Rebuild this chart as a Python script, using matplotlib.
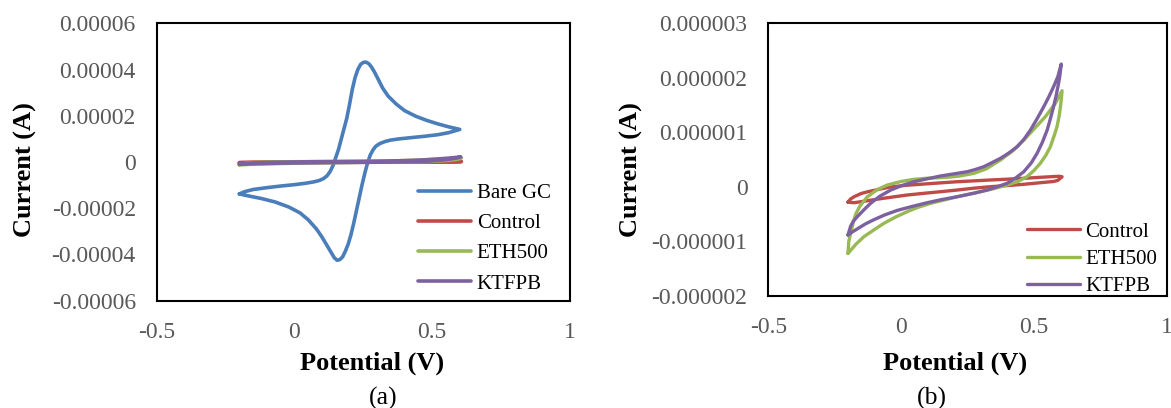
import matplotlib
matplotlib.use("Agg")
import matplotlib.pyplot as plt

# ---------------- data ----------------
# Bare GC (panel a), potential in V, current in units of 1e-5 A
bare_E = [-0.2, -0.18, -0.15, -0.1, -0.05, 0.0, 0.04, 0.07, 0.09, 0.105, 0.118, 0.13, 0.14,
          0.15, 0.16, 0.17, 0.18, 0.19, 0.2, 0.21, 0.22, 0.23, 0.24, 0.25, 0.26, 0.27, 0.28,
          0.29, 0.3, 0.32, 0.34, 0.37, 0.4, 0.44, 0.48, 0.52, 0.56, 0.6,
          0.56, 0.52, 0.47, 0.42, 0.38, 0.35, 0.33, 0.31, 0.295, 0.285, 0.275, 0.265, 0.255,
          0.245, 0.235, 0.225, 0.215, 0.205, 0.195, 0.185, 0.175, 0.165, 0.155, 0.145, 0.135,
          0.12, 0.1, 0.08, 0.05, 0.02, -0.02, -0.07, -0.12, -0.17, -0.2]
bare_I = [-1.38, -1.28, -1.19, -1.11, -1.04, -0.98, -0.92, -0.86, -0.8, -0.72, -0.6, -0.4, -0.15,
          0.2, 0.55, 1.0, 1.45, 1.9, 2.5, 3.15, 3.65, 4.0, 4.22, 4.31, 4.32, 4.25, 4.1,
          3.9, 3.67, 3.2, 2.85, 2.5, 2.22, 1.98, 1.8, 1.65, 1.52, 1.41,
          1.27, 1.18, 1.11, 1.05, 1.0, 0.95, 0.89, 0.8, 0.68, 0.52, 0.3, -0.05, -0.5,
          -1.0, -1.55, -2.1, -2.65, -3.15, -3.55, -3.85, -4.1, -4.22, -4.25, -4.15, -3.95,
          -3.65, -3.25, -2.9, -2.5, -2.2, -1.95, -1.73, -1.58, -1.46, -1.38]

# Control, current in units of 1e-6 A
ctrl_E = [-0.2, -0.19, -0.177, -0.15, -0.127, -0.08, -0.039, 0.02, 0.086, 0.15, 0.211, 0.27,
          0.336, 0.4, 0.462, 0.52, 0.574, 0.595, 0.606,
          0.59, 0.574, 0.52, 0.462, 0.4, 0.336, 0.27, 0.211, 0.15, 0.086, 0.02, -0.039, -0.09,
          -0.127, -0.177, -0.2]
ctrl_I = [-0.28, -0.22, -0.18, -0.12, -0.09, -0.04, 0.0, 0.03, 0.053, 0.075, 0.095, 0.11,
          0.127, 0.142, 0.158, 0.175, 0.19, 0.195, 0.187,
          0.12, 0.1, 0.075, 0.048, 0.025, 0.004, -0.025, -0.057, -0.087, -0.117, -0.15, -0.19,
          -0.225, -0.253, -0.29, -0.28]

# ETH500, current in units of 1e-6 A
eth_E = [-0.2, -0.197, -0.19, -0.18, -0.171, -0.155, -0.127, -0.09, -0.052, 0.0, 0.048, 0.1,
         0.174, 0.22, 0.274, 0.32, 0.374, 0.42, 0.462, 0.5, 0.543, 0.581, 0.606,
         0.603, 0.6, 0.595, 0.587, 0.575, 0.562, 0.545, 0.524, 0.5, 0.474, 0.44, 0.399, 0.35,
         0.299, 0.211, 0.111, 0.06, 0.023, -0.02, -0.065, -0.1, -0.14, -0.17, -0.2]
eth_I = [-1.22, -1.0, -0.85, -0.65, -0.5, -0.35, -0.18, -0.05, 0.035, 0.1, 0.139, 0.16,
         0.176, 0.2, 0.249, 0.33, 0.493, 0.66, 0.86, 1.06, 1.287, 1.533, 1.764,
         1.6, 1.47, 1.3, 1.104, 0.92, 0.737, 0.58, 0.432, 0.3, 0.187, 0.1, 0.035, -0.03,
         -0.088, -0.18, -0.301, -0.38, -0.454, -0.55, -0.668, -0.78, -0.912, -1.05, -1.22]

# KTFPB, current in units of 1e-6 A
ktf_E = [-0.2, -0.195, -0.19, -0.18, -0.165, -0.14, -0.115, -0.08, -0.039, 0.0, 0.048, 0.1,
         0.148, 0.2, 0.249, 0.28, 0.311, 0.34, 0.374, 0.405, 0.437, 0.462, 0.487, 0.512, 0.537,
         0.555, 0.574, 0.59, 0.603,
         0.598, 0.593, 0.584, 0.574, 0.562, 0.55, 0.532, 0.512, 0.49, 0.462, 0.43, 0.399, 0.36,
         0.324, 0.27, 0.211, 0.15, 0.098, 0.04, -0.014, -0.06, -0.102, -0.135, -0.165, -0.185,
         -0.2]
ktf_I = [-0.88, -0.8, -0.72, -0.63, -0.546, -0.42, -0.301, -0.17, -0.057, 0.02, 0.095, 0.15,
         0.2, 0.24, 0.279, 0.32, 0.37, 0.44, 0.524, 0.62, 0.737, 0.87, 1.043, 1.25, 1.47,
         1.64, 1.837, 2.02, 2.253,
         2.05, 1.9, 1.68, 1.47, 1.25, 1.043, 0.82, 0.616, 0.44, 0.279, 0.16, 0.066, 0.0,
         -0.057, -0.12, -0.18, -0.235, -0.29, -0.36, -0.43, -0.51, -0.6, -0.68, -0.77, -0.83,
         -0.88]

series_names = ["Bare GC", "Control", "ETH500", "KTFPB"]
colors = {"Bare GC": "#4A7EBB", "Control": "#BE4B48", "ETH500": "#98B954", "KTFPB": "#7D60A0"}

xticks = [-0.5, 0, 0.5, 1]
xticklabels = ["-0.5", "0", "0.5", "1"]
yticks_a = [-6e-5, -4e-5, -2e-5, 0, 2e-5, 4e-5, 6e-5]
yticklabels_a = ["-0.00006", "-0.00004", "-0.00002", "0", "0.00002", "0.00004", "0.00006"]
yticks_b = [-2e-6, -1e-6, 0, 1e-6, 2e-6, 3e-6]
yticklabels_b = ["-0.000002", "-0.000001", "0", "0.000001", "0.000002", "0.000003"]

# ---------------- figure ----------------
W, H = 1171, 408
fig = plt.figure(figsize=(W / 100, H / 100), dpi=100)
plt.rcParams['font.family'] = ['Liberation Serif', 'DejaVu Serif']

def px_axes(x0, y0, x1, y1):
    return fig.add_axes([x0 / W, 1 - y1 / H, (x1 - x0) / W, (y1 - y0) / H])

axA = px_axes(156.7, 23.3, 570, 300.7)
axB = px_axes(768.3, 23.3, 1166.7, 296)

data = {
    "Bare GC": (bare_E, [v * 1e-5 for v in bare_I]),
    "Control": (ctrl_E, [v * 1e-6 for v in ctrl_I]),
    "ETH500": (eth_E, [v * 1e-6 for v in eth_I]),
    "KTFPB": (ktf_E, [v * 1e-6 for v in ktf_I]),
}

for name in series_names:
    E, I = data[name]
    axA.plot(E, I, color=colors[name], lw=2.6, label=name, solid_joinstyle='round',
             solid_capstyle='round')
for name in series_names[1:]:
    E, I = data[name]
    axB.plot(E, I, color=colors[name], lw=2.4, label=name, solid_joinstyle='round',
             solid_capstyle='round')

for ax, yt, ytl, ylim in [(axA, yticks_a, yticklabels_a, (-6e-5, 6e-5)),
                          (axB, yticks_b, yticklabels_b, (-2e-6, 3e-6))]:
    ax.set_xlim(-0.5, 1)
    ax.set_ylim(*ylim)
    ax.set_xticks(xticks)
    ax.set_xticklabels(xticklabels)
    ax.set_yticks(yt)
    ax.set_yticklabels(ytl)
    ax.tick_params(axis='both', length=0, labelsize=17, colors='#595959')
    ax.tick_params(axis='y', pad=15)
    ax.tick_params(axis='x', pad=15)
    for s in ax.spines.values():
        s.set_linewidth(1.5)
        s.set_color('black')

# legends
legA = axA.legend(loc='upper left', bbox_to_anchor=(418.3 / W, 1 - 183.5 / H),
                  bbox_transform=fig.transFigure, frameon=False, fontsize=15,
                  handlelength=2.55, handletextpad=0.25, labelspacing=0.51, borderpad=0,
                  borderaxespad=0)
legB = axB.legend(loc='upper left', bbox_to_anchor=(1026.7 / W, 1 - 222.0 / H),
                  bbox_transform=fig.transFigure, frameon=False, fontsize=15,
                  handlelength=2.55, handletextpad=0.25, labelspacing=0.37, borderpad=0,
                  borderaxespad=0)

# axis titles and panel labels
fig.text(371.7 / W, 1 - 363 / H, "Potential (V)", ha='center', va='center',
         fontsize=19, fontweight='bold')
fig.text(955 / W, 1 - 363 / H, "Potential (V)", ha='center', va='center',
         fontsize=19, fontweight='bold')
fig.text(25 / W, 1 - 170 / H, "Current (A)", ha='center', va='center',
         fontsize=19, fontweight='bold', rotation=90)
fig.text(631 / W, 1 - 170 / H, "Current (A)", ha='center', va='center',
         fontsize=19, fontweight='bold', rotation=90)
fig.text(382.7 / W, 1 - 398 / H, "(a)", ha='center', va='center', fontsize=18.5)
fig.text(931.7 / W, 1 - 398 / H, "(b)", ha='center', va='center', fontsize=18.5)

fig.savefig("out.png", dpi=100)
